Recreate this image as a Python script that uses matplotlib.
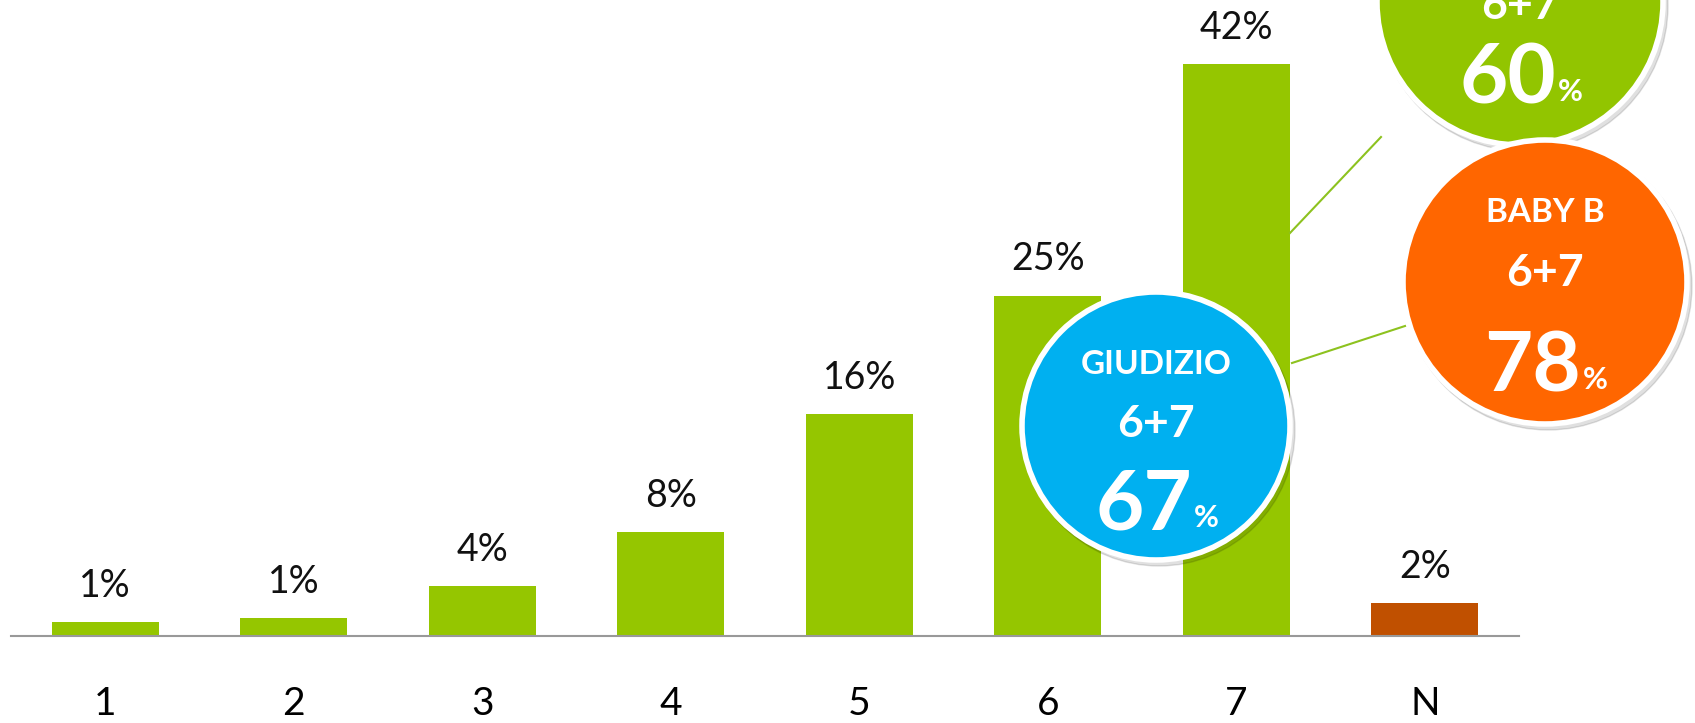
import matplotlib
matplotlib.use("Agg")
import matplotlib.pyplot as plt
from matplotlib.patches import Circle

plt.rcParams['font.family'] = ['Lato', 'DejaVu Sans']

categories = ['1', '2', '3', '4', '5', '6', '7', 'N']
values = [1.0, 1.35, 3.7, 7.6, 16.3, 25.0, 42.0, 2.4]
value_labels = ['1%', '1%', '4%', '8%', '16%', '25%', '42%', '2%']
bar_colors = ['#95C600'] * 7 + ['#C05000']

bubble_titles = ['GIUDIZIO', 'BABY B', 'BABY A']
bubble_sub = ['6+7', '6+7', '6+7']
bubble_values = ['67', '78', '60']

W, H = 1695, 723
fig = plt.figure(figsize=(W / 100, H / 100), dpi=100)
ax = fig.add_axes([11 / W, (H - 636) / H, 1508 / W, 636 / H])
x = list(range(len(categories)))
ax.bar(x, values, width=0.57, color=bar_colors, zorder=2)
ax.set_xlim(-0.5, 7.5)
ax.set_ylim(0, 46.7)
for s in ['top', 'right', 'left']:
    ax.spines[s].set_visible(False)
ax.spines['bottom'].set_color('#999999')
ax.spines['bottom'].set_linewidth(1.5)
ax.set_yticks([])
ax.set_xticks(x)
ax.set_xticklabels(categories, fontsize=28)
ax.tick_params(axis='x', length=0, pad=36)
for xi, v, lab in zip(x, values, value_labels):
    ax.annotate(lab, (xi, v), xytext=(0, 13), textcoords='offset points',
                ha='center', va='bottom', fontsize=27, color='#111111')

# overlay in pixel coordinates
ov = fig.add_axes([0, 0, 1, 1])
ov.set_xlim(0, W)
ov.set_ylim(H, 0)
ov.axis('off')
ov.patch.set_alpha(0)

# connector lines
ov.plot([1290, 1381], [233, 137], color='#8DC21F', lw=1.5, zorder=1)
ov.plot([1292, 1405], [363, 326], color='#8DC21F', lw=1.5, zorder=1)

bubbles = [
    # (cx, cy, r, color, title_y, sub_y, val_y)
    (1520, 2, 143, '#92C500', -60, 6, 80),
    (1545, 282, 142, '#FF6600', 212, 273, 368),
    (1156, 426, 134, '#00B0F0', 364, 424, 506),
]
order = [2, 1, 0]
for (cx, cy, r, col, ty, sy, vy), bi in zip(bubbles, order):
    ov.add_patch(Circle((cx + 3, cy + 4), r + 2, color='#000000', alpha=0.12, zorder=3))
    ov.add_patch(Circle((cx, cy), r, facecolor=col, edgecolor='white', lw=4, zorder=4))
    if ty > 0:
        ov.text(cx, ty, bubble_titles[bi], ha='center', va='center', color='white',
                fontsize=24, fontweight='bold', zorder=5)
    ov.text(cx, sy, bubble_sub[bi], ha='center', va='center', color='white',
            fontsize=32, fontweight='bold', zorder=5)
    ov.text(cx - 12, vy, bubble_values[bi], ha='center', va='center', color='white',
            fontsize=60, fontweight='bold', zorder=5)
    ov.text(cx + 50, vy + 12, '%', ha='center', va='center', color='white',
            fontsize=22, fontweight='bold', zorder=5)

fig.savefig('out.png', dpi=100)
